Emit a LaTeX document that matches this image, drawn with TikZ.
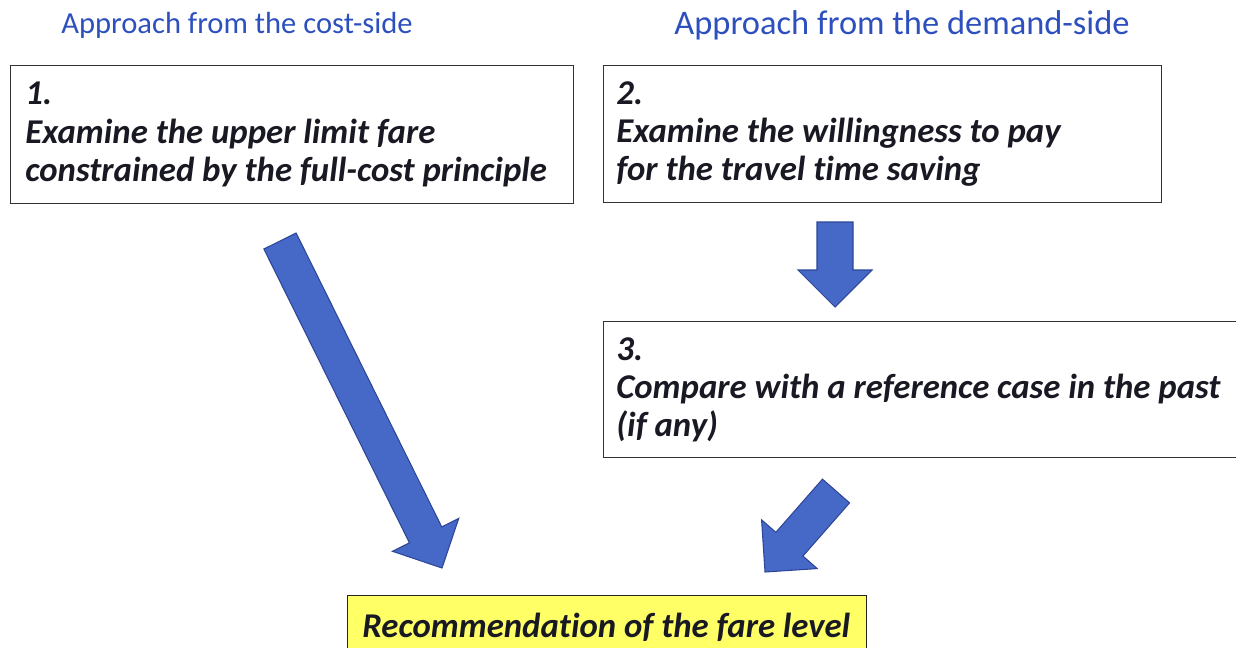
\documentclass[tikz,border=0pt]{standalone}
\usepackage{fontspec}
\setmainfont[Ligatures=NoCommon]{Carlito}
\usetikzlibrary{calc}

\definecolor{headblue}{RGB}{45,80,190}
\definecolor{arrowfill}{RGB}{70,105,200}
\definecolor{arrowedge}{RGB}{45,70,150}
\definecolor{resultyellow}{RGB}{255,255,102}
\definecolor{boxtext}{RGB}{25,25,35}

\tikzset{
  heading/.style={text=headblue},
  stepbox/.style={draw=black!80, line width=0.8pt, anchor=north west},
  steptext/.style={anchor=west, align=left, inner sep=0pt, text=boxtext,
    font=\fontsize{19.8}{21.8}\selectfont\bfseries\itshape},
  resultbox/.style={stepbox, draw=black!85, fill=resultyellow},
  blockarrow/.style={fill=arrowfill, draw=arrowedge, line width=0.6pt, line join=miter}
}

% wide arrow from tail centre #1 to tip #2
\newcommand\shaftw{0.36cm}
\newcommand\headw{0.74cm}
\newcommand\headlen{0.74cm}
\newcommand\blockarrow[2]{%
  \coordinate (hb) at ($(#2)!\headlen!(#1)$);
  \filldraw[blockarrow] ($(#1)!\shaftw!90:(#2)$) -- ($(hb)!\shaftw!-90:(#1)$)
    -- ($(hb)!\headw!-90:(#1)$) -- (#2) -- ($(hb)!\headw!90:(#1)$)
    -- ($(hb)!\shaftw!90:(#1)$) -- ($(#1)!\shaftw!-90:(#2)$) -- cycle;
}

\begin{document}
\begin{tikzpicture}[x=0.02cm, y=-0.02cm]
\useasboundingbox (0,0) rectangle (1236,647);
\clip (0,0) rectangle (1236,647);

\node[heading, font=\fontsize{17.4}{20}\selectfont] (costhead) at (237,25)
  {Approach from the cost-side};
\node[heading, font=\fontsize{19.6}{22}\selectfont] (demhead) at (902,25)
  {Approach from the demand-side};

% step boxes and their texts
\node[stepbox, minimum width=11.26cm, minimum height=2.76cm] (cost) at (10,65) {};
\node[steptext] (costtext) at ([xshift=0.3cm]cost.west)
  {1.\\Examine the upper limit fare\\constrained by the full-cost principle};

\node[stepbox, minimum width=11.16cm, minimum height=2.74cm] (demand) at (603,65) {};
\node[steptext] (demtext) at ([xshift=0.26cm]demand.west)
  {2.\\Examine the willingness to pay\\for the travel time saving};

\node[stepbox, minimum width=13.2cm, minimum height=2.72cm] (compare) at (603,321) {};
\node[steptext] (cmptext) at ([xshift=0.26cm]compare.west)
  {3.\\Compare with a reference case in the past\\(if any)};

% result
\node[resultbox, minimum width=10.38cm, minimum height=1.4cm] (result) at (347,595) {};
\node[steptext, anchor=base west] (resulttext) at (362,637)
  {Recommendation of the fare level};

% block arrows
\coordinate (costtail) at (280,241);
\coordinate (costtip) at (442,568);
\coordinate (demtail) at (835,222);
\coordinate (demtip) at (835,307);
\coordinate (cmptail) at (836,491);
\coordinate (cmptip) at (765,572);

\blockarrow{costtail}{costtip}
\blockarrow{demtail}{demtip}
\blockarrow{cmptail}{cmptip}
\end{tikzpicture}
\end{document}
